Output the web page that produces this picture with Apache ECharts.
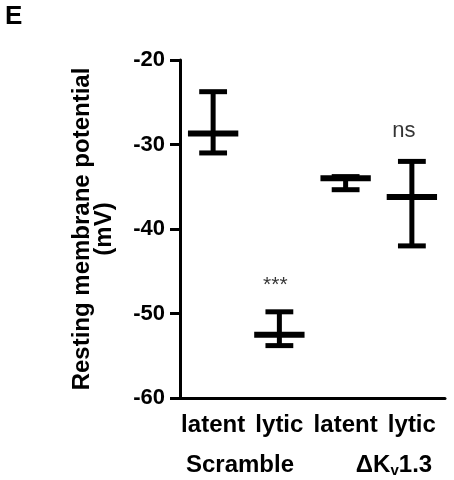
<!DOCTYPE html>
<html>
<head>
<meta charset="utf-8">
<script src="https://cdn.jsdelivr.net/npm/echarts@6/dist/echarts.min.js"></script>
<style>
  html, body { margin: 0; padding: 0; background: #fff; }
  #main { width: 454px; height: 480px; }
</style>
</head>
<body>
<div id="main"></div>
<script>
// 数据
const categories = ["latent", "lytic", "latent", "lytic"];
const meanValues = [-28.7, -52.5, -34.0, -36.2];
const lowValues = [-31.0, -53.8, -35.35, -42.0];
const highValues = [-23.75, -49.8, -33.8, -32.0];
const yTicks = [-60, -50, -40, -30, -20];
// 显著性标注: [类别序号, 位置, 文字]
const marks = [[1, -46.6, "***"], [3, -28.4, "ns"]];

const FONT = "Liberation Sans, Arial, sans-serif";

let chart = echarts.init(document.getElementById("main"));

const barData = meanValues.map((m, i) => [i, m, lowValues[i], highValues[i]]);

chart.setOption({
  animation: false,
  grid: { left: 180, right: 9, top: 60, bottom: 82 },
  xAxis: {
    type: "category",
    data: categories,
    axisLine: { onZero: false, lineStyle: { color: "#000", width: 3 } },
    axisTick: { length: 10, lineStyle: { color: "#000", width: 3 } },
    axisLabel: {
      color: "#000", fontWeight: "bold", fontSize: 24, fontFamily: FONT,
      margin: 15, interval: 0
    }
  },
  yAxis: {
    type: "value",
    min: yTicks[0],
    max: yTicks[yTicks.length - 1],
    interval: 10,
    splitLine: { show: false },
    axisLine: { show: true, lineStyle: { color: "#000", width: 3 } },
    axisTick: { show: true, length: 10, lineStyle: { color: "#000", width: 3 } },
    axisLabel: {
      color: "#000", fontWeight: "bold", fontSize: 22, fontFamily: FONT, margin: 15
    },
    name: "Resting membrane potential\n(mV)",
    nameLocation: "middle",
    nameRotate: 90,
    nameGap: 65,
    nameTextStyle: {
      color: "#000", fontWeight: "bold", fontSize: 24, fontFamily: FONT, lineHeight: 22
    }
  },
  series: [
    {
      type: "custom",
      data: barData,
      renderItem: function (params, api) {
        const x = api.value(0);
        const m = api.coord([x, api.value(1)]);
        const lo = api.coord([x, api.value(2)]);
        const hi = api.coord([x, api.value(3)]);
        const band = api.size([1, 0])[0];
        const capW = band * 0.42 / 2;
        const meanW = band * 0.76 / 2;
        const st = { stroke: "#000", lineWidth: 5 };
        return {
          type: "group",
          children: [
            { type: "line", shape: { x1: m[0], y1: hi[1], x2: m[0], y2: lo[1] }, style: st },
            { type: "line", shape: { x1: m[0] - capW, y1: hi[1], x2: m[0] + capW, y2: hi[1] }, style: st },
            { type: "line", shape: { x1: m[0] - capW, y1: lo[1], x2: m[0] + capW, y2: lo[1] }, style: st },
            { type: "line", shape: { x1: m[0] - meanW, y1: m[1], x2: m[0] + meanW, y2: m[1] },
              style: { stroke: "#000", lineWidth: 6 } }
          ]
        };
      }
    },
    {
      type: "scatter",
      symbolSize: 0,
      data: marks.map(d => ({
        value: [d[0], d[1]], name: d[2],
        label: d[2] === "ns" ? { fontSize: 22, offset: [-8, 0] } : { fontSize: 21, offset: [-4, 0] }
      })),
      label: {
        show: true,
        position: "inside",
        formatter: p => p.name,
        color: "#000",
        fontFamily: FONT
      }
    }
  ],
  graphic: [
    { type: "text", left: 5, top: 4,
      style: { text: "E", fontSize: 26, fontWeight: "bold", fontFamily: FONT, fill: "#000" } },
    { type: "text", x: 240, y: 465,
      style: { text: "Scramble", fontSize: 24, fontWeight: "bold", fontFamily: FONT, fill: "#000",
        align: "center", verticalAlign: "middle" } },
    { type: "text", x: 394, y: 465,
      style: {
        text: "ΔK{sub|v}1.3", align: "center", verticalAlign: "middle", fill: "#000",
        fontSize: 24, fontWeight: "bold", fontFamily: FONT,
        rich: { sub: { fontSize: 15, fontWeight: "bold", fontFamily: FONT, padding: [11, 0, 0, 0] } }
      } }
  ]
});
</script>
</body>
</html>
